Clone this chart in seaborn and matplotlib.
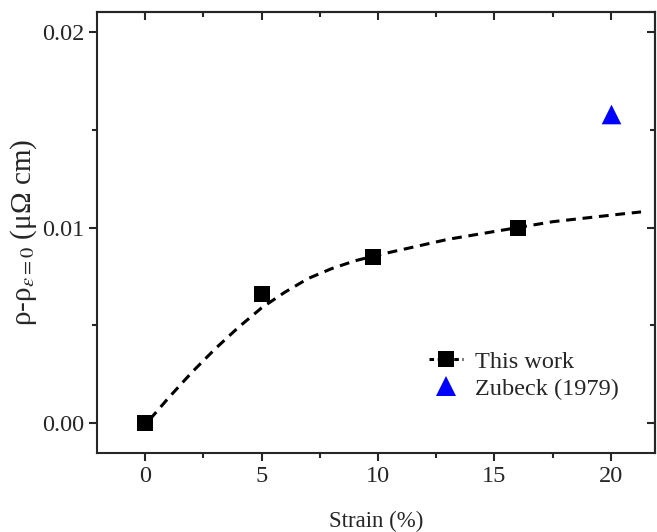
import matplotlib
matplotlib.use("Agg")
import matplotlib.pyplot as plt
import seaborn as sns
import pandas as pd
from matplotlib.lines import Line2D
from matplotlib.ticker import MultipleLocator

# measured points (this work)
strain = [0, 5, 9.8, 16]
drho = [0.0, 0.0066, 0.0085, 0.0100]

# literature point
zub_strain = [20]
zub_drho = [0.0158]

# dashed guide curve
curve_x = [0.2, 1.0, 2.0, 3.0, 4.0, 5.0, 6.0, 7.0, 8.0, 9.0, 10.0,
           11.5, 13.0, 14.5, 16.0, 17.5, 19.0, 20.5, 21.3]
curve_y = [0.0002, 0.0013, 0.0026, 0.0038, 0.0049, 0.0059, 0.0067, 0.0074,
           0.0079, 0.0083, 0.0086, 0.0090, 0.0094, 0.0097, 0.0100, 0.0103,
           0.0105, 0.0107, 0.0108]

sns.set_style("ticks")
plt.rcParams['font.family'] = ['Liberation Serif', 'DejaVu Serif']
plt.rcParams['mathtext.fontset'] = 'stix'

fig = plt.figure(figsize=(6.57, 5.32), dpi=100)
ax = fig.add_axes([0.148, 0.149, 0.849, 0.828])

curve = pd.DataFrame({'x': curve_x, 'y': curve_y})
sns.lineplot(data=curve, x='x', y='y', ax=ax, color='black', lw=2.2,
             linestyle=(0, (3.2, 2.2)), sort=False)
sns.scatterplot(x=strain, y=drho, ax=ax, marker='s', s=130, color='black',
                edgecolor='black', linewidth=0, zorder=5)
sns.scatterplot(x=zub_strain, y=zub_drho, ax=ax, marker='^', s=200, color='blue',
                edgecolor='blue', linewidth=0, zorder=5)

ax.set_xlim(-2.06, 21.9)
ax.set_ylim(-0.0015, 0.021)
ax.xaxis.set_major_locator(MultipleLocator(5))
ax.xaxis.set_minor_locator(MultipleLocator(2.5))
ax.yaxis.set_major_locator(MultipleLocator(0.01))
ax.yaxis.set_minor_locator(MultipleLocator(0.005))
ax.yaxis.set_major_formatter(matplotlib.ticker.FormatStrFormatter('%.2f'))

for s in ax.spines.values():
    s.set_linewidth(1.5)
ax.tick_params(which='major', direction='out', length=6, width=1.5, labelsize=17.5)
ax.tick_params(which='minor', direction='out', length=3.5, width=1.5)

# top / right: inward ticks without labels
top = ax.secondary_xaxis('top')
top.xaxis.set_major_locator(MultipleLocator(5))
top.xaxis.set_minor_locator(MultipleLocator(2.5))
top.tick_params(which='major', direction='in', length=6, width=1.5, labeltop=False)
top.tick_params(which='minor', direction='in', length=3.5, width=1.5)
right = ax.secondary_yaxis('right')
right.yaxis.set_major_locator(MultipleLocator(0.01))
right.yaxis.set_minor_locator(MultipleLocator(0.005))
right.tick_params(which='major', direction='in', length=6, width=1.5, labelright=False)
right.tick_params(which='minor', direction='in', length=3.5, width=1.5)
for sa in (top, right):
    for s in sa.spines.values():
        s.set_linewidth(1.5)

ax.set_xlabel('Strain (%)', fontsize=16.5, labelpad=17)
ax.set_ylabel(r'ρ-ρ$_{\varepsilon=0}$ (μΩ cm)', fontsize=21, labelpad=2)

handles = [
    Line2D([], [], color='black', lw=2.2, linestyle=(0, (1.5, 1.2)), marker='s',
           markersize=11, markeredgewidth=0),
    Line2D([], [], color='blue', lw=0, marker='^', markersize=14, markeredgewidth=0),
]
ax.legend(handles, ['This work', 'Zubeck (1979)'], frameon=False, fontsize=17.5,
          loc='lower right', bbox_to_anchor=(0.935, 0.12), borderaxespad=0,
          borderpad=0, handlelength=1.4, handletextpad=0.5, labelspacing=0.2)

fig.savefig('out.png', dpi=100)
